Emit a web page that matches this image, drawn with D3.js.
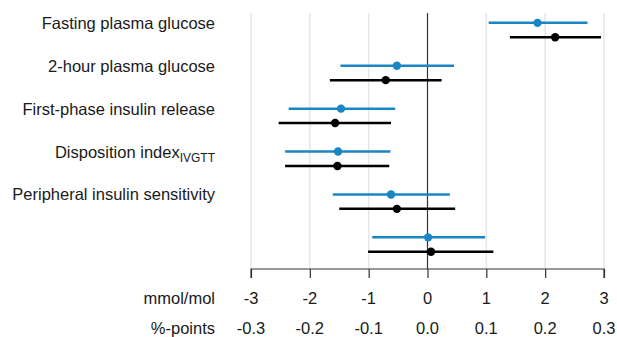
<!DOCTYPE html>
<html><head><meta charset="utf-8">
<script src="https://cdn.jsdelivr.net/npm/d3@7"></script>
<style>body{margin:0;background:#fff;} svg{display:block;} text{font-family:"Liberation Sans",Arial,sans-serif;fill:#1a1a1a;}</style>
</head><body><svg id="c" width="617" height="337"></svg>
<script>
const labels = ["Fasting plasma glucose","2-hour plasma glucose","First-phase insulin release","Disposition index","Peripheral insulin sensitivity",""];
const blueEst = [1.87,-0.52,-1.47,-1.52,-0.62,0.01];
const blueLo  = [1.04,-1.48,-2.36,-2.42,-1.61,-0.94];
const blueHi  = [2.72,0.45,-0.55,-0.63,0.38,0.98];
const blackEst = [2.17,-0.71,-1.57,-1.53,-0.52,0.06];
const blackLo  = [1.40,-1.66,-2.53,-2.42,-1.50,-1.01];
const blackHi  = [2.95,0.24,-0.62,-0.65,0.47,1.12];
const ticksMmol = [-3,-2,-1,0,1,2,3];
const ticksPct = ["-0.3","-0.2","-0.1","0.0","0.1","0.2","0.3"];

const svg = d3.select("#c");
const FS = 16.5;
const x = d3.scaleLinear().domain([-3,3]).range([251,604]);
const y = d3.scaleBand().domain(d3.range(labels.length)).range([8.6,266]);
const blueOff = -7.2, blackOff = 7.2;
const cy = i => y(i) + y.bandwidth()/2;

// gridlines
svg.append("g").selectAll("line").data(ticksMmol.filter(d=>d!==0)).join("line")
  .attr("x1",d=>x(d)).attr("x2",d=>x(d)).attr("y1",13).attr("y2",269)
  .attr("stroke","#e6e6e6").attr("stroke-width",1.5);
// zero line
svg.append("line").attr("x1",x(0)).attr("x2",x(0)).attr("y1",13).attr("y2",269)
  .attr("stroke","#333").attr("stroke-width",1.2);

// axis
const ax = svg.append("g").attr("transform","translate(0,269)")
  .call(d3.axisBottom(x).tickValues(ticksMmol).tickSize(9).tickFormat(""));
ax.select(".domain").attr("stroke","#333").attr("stroke-width",1.2).attr("d",`M${x(-3)},9V0H${x(3)}V9`);
ax.selectAll(".tick line").attr("stroke","#333").attr("stroke-width",1.2);

svg.append("g").selectAll("text").data(ticksMmol).join("text")
  .attr("x",d=>x(d)).attr("y",304).attr("text-anchor","middle").attr("font-size",FS)
  .text(d=>d);
svg.append("g").selectAll("text").data(ticksPct).join("text")
  .attr("x",(d,i)=>x(ticksMmol[i])).attr("y",334).attr("text-anchor","middle").attr("font-size",FS)
  .text(d=>d);
svg.append("text").attr("x",215).attr("y",304).attr("text-anchor","end").attr("font-size",FS).text("mmol/mol");
svg.append("text").attr("x",215).attr("y",334).attr("text-anchor","end").attr("font-size",FS).text("%-points");

// labels
const lab = svg.append("g").selectAll("text").data(labels).join("text")
  .attr("x",215).attr("y",(d,i)=>cy(i)+blueOff+6).attr("text-anchor","end").attr("font-size",FS)
  .text(d=>d);
lab.filter((d,i)=>i===3).append("tspan").attr("font-size",12).attr("dy",4).text("IVGTT");

function series(est,lo,hi,off,col){
  const g = svg.append("g");
  g.selectAll("line").data(est).join("line")
    .attr("x1",(d,i)=>x(lo[i])).attr("x2",(d,i)=>x(hi[i]))
    .attr("y1",(d,i)=>cy(i)+off).attr("y2",(d,i)=>cy(i)+off)
    .attr("stroke",col).attr("stroke-width",2.5);
  g.selectAll("circle").data(est).join("circle")
    .attr("cx",d=>x(d)).attr("cy",(d,i)=>cy(i)+off).attr("r",4.2).attr("fill",col);
}
series(blueEst,blueLo,blueHi,blueOff,"#1a86c4");
series(blackEst,blackLo,blackHi,blackOff,"#000");
</script></body></html>
